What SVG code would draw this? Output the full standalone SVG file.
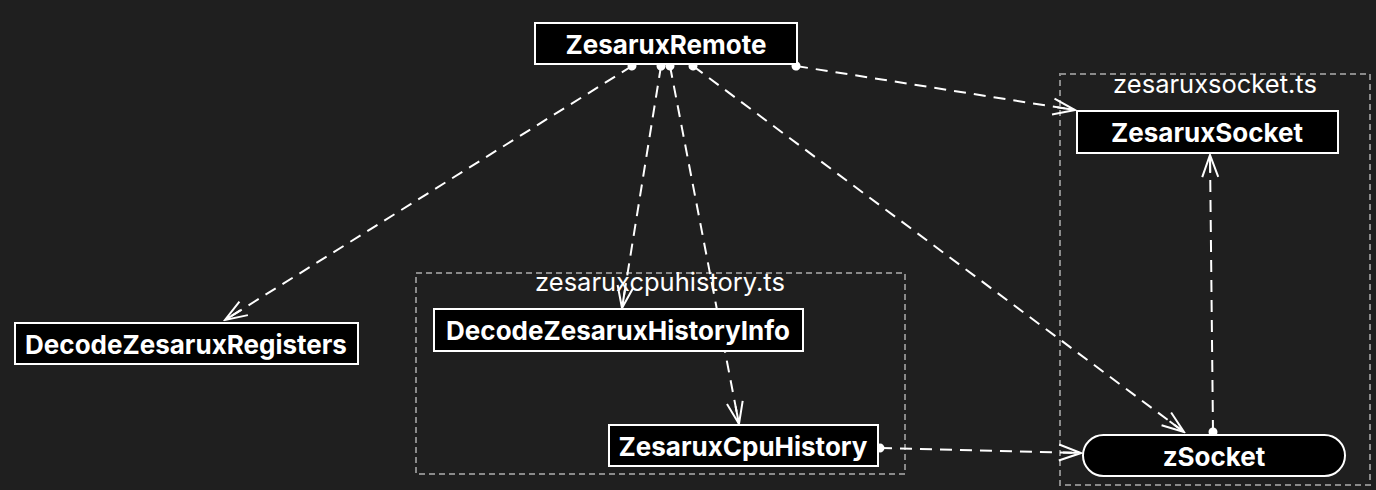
<svg xmlns="http://www.w3.org/2000/svg" width="1376" height="490" viewBox="0 0 1376 490">
<style>
.bg{fill:#1f1f1f}
.cl{fill:none;stroke:#8a8a8a;stroke-width:2;stroke-dasharray:6 4}
.cllabel{font-family:Inter,"Noto Sans",sans-serif;font-size:25.5px;fill:#ffffff;text-anchor:middle}
.nd{fill:#000000;stroke:#ffffff;stroke-width:2}
.lb{font-family:Inter,"Noto Sans",sans-serif;font-weight:bold;font-size:26px;fill:#ffffff;text-anchor:middle;dominant-baseline:central}
.ed{fill:none;stroke:#ffffff;stroke-width:2;stroke-dasharray:12 8;marker-start:url(#dot);marker-end:url(#vee)}
</style>
<defs>
<marker id="vee" markerUnits="userSpaceOnUse" markerWidth="26" markerHeight="20" viewBox="-2 -10 26 20" refX="22" refY="0" orient="auto">
<path d="M0,-8 L22,0 L0,8 M4,0 L22,0" fill="none" stroke="#ffffff" stroke-width="2"/>
</marker>
<marker id="dot" markerUnits="userSpaceOnUse" markerWidth="10" markerHeight="10" viewBox="-5 -5 10 10" refX="0" refY="0" orient="auto">
<circle cx="0" cy="0" r="4.5" fill="#ffffff"/>
</marker>
</defs>
<rect class="bg" x="0" y="0" width="1376" height="490"/>
<g id="cluster-zesaruxsocket">
<rect class="cl" x="1060" y="74" width="310" height="411"/>
<text class="cllabel" x="1215" y="93">zesaruxsocket.ts</text>
</g>
<g id="cluster-zesaruxcpuhistory">
<rect class="cl" x="416" y="273" width="489" height="201"/>
<text class="cllabel" x="660" y="291">zesaruxcpuhistory.ts</text>
</g>
<g id="connectors">
<path class="ed" d="M632,66 L225,320"/>
<path class="ed" d="M661,66 L622,308"/>
<path class="ed" d="M670,66 L739,424"/>
<path class="ed" d="M693,66 L1184,432"/>
<path class="ed" d="M796,66 L1075,110"/>
<path class="ed" d="M880,448 L1081,453"/>
<path class="ed" d="M1213,432 L1210,155"/>
</g>
<g id="ZesaruxRemote">
<rect class="nd" x="535" y="23" width="262" height="41"/>
<text class="lb" x="666" y="44">ZesaruxRemote</text>
</g>
<g id="ZesaruxSocket">
<rect class="nd" x="1077" y="111" width="261" height="42"/>
<text class="lb" x="1207" y="132">ZesaruxSocket</text>
</g>
<g id="zSocket">
<rect class="nd" x="1083" y="435" width="262" height="41" rx="20.5"/>
<text class="lb" x="1214" y="456">zSocket</text>
</g>
<g id="DecodeZesaruxHistoryInfo">
<rect class="nd" x="434" y="309" width="369" height="42"/>
<text class="lb" x="618" y="330">DecodeZesaruxHistoryInfo</text>
</g>
<g id="ZesaruxCpuHistory">
<rect class="nd" x="609" y="425" width="269" height="41"/>
<text class="lb" x="743" y="446">ZesaruxCpuHistory</text>
</g>
<g id="DecodeZesaruxRegisters">
<rect class="nd" x="15" y="323" width="343" height="41"/>
<text class="lb" x="186" y="344">DecodeZesaruxRegisters</text>
</g>
</svg>
